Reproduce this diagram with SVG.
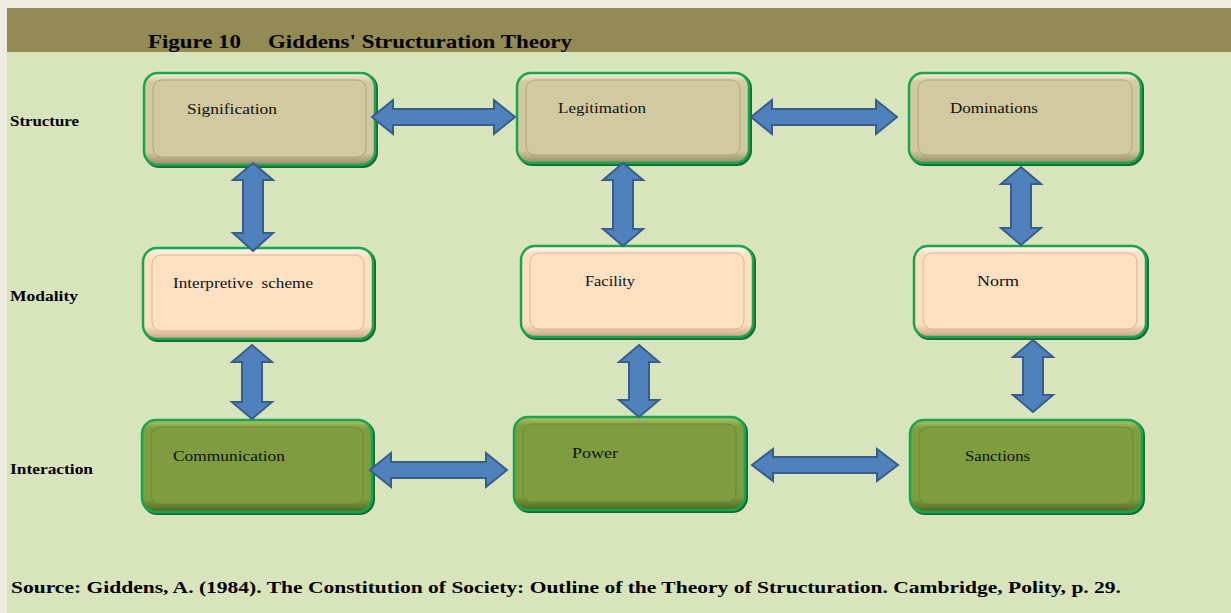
<svg xmlns="http://www.w3.org/2000/svg" width="1231" height="613" viewBox="0 0 1231 613">
  <defs>
    <style>
      .row { font-family: "Liberation Serif", "Times New Roman", serif; font-weight: bold; font-size: 14.5px; fill: #000; }
      .lbl { font-family: "Liberation Serif", "Times New Roman", serif; font-size: 15.5px; fill: #111; }
      .title { font-family: "Liberation Serif", "Times New Roman", serif; font-weight: bold; font-size: 19px; fill: #000; }
      .src { font-family: "Liberation Serif", "Times New Roman", serif; font-weight: bold; font-size: 16px; fill: #000; }
      .frame { stroke: #17a64c; stroke-width: 2.5; }
      .shadow { fill: none; stroke: #166b34; stroke-width: 3; }
      .arrow { fill: #4f81bd; stroke: #385d8a; stroke-width: 2; stroke-linejoin: miter; }
    </style>
    <linearGradient id="bevTan" x1="0" y1="0" x2="0" y2="1">
      <stop offset="0" stop-color="#f4f0dc"/>
      <stop offset="0.1" stop-color="#d1c9a0"/>
      <stop offset="0.86" stop-color="#d1c9a0"/>
      <stop offset="1" stop-color="#948c66"/>
    </linearGradient>
    <linearGradient id="bevPeach" x1="0" y1="0" x2="0" y2="1">
      <stop offset="0" stop-color="#fffaf2"/>
      <stop offset="0.1" stop-color="#fde0c1"/>
      <stop offset="0.86" stop-color="#fde0c1"/>
      <stop offset="1" stop-color="#c6a486"/>
    </linearGradient>
    <linearGradient id="bevOlive" x1="0" y1="0" x2="0" y2="1">
      <stop offset="0" stop-color="#aac46a"/>
      <stop offset="0.1" stop-color="#7f9c40"/>
      <stop offset="0.86" stop-color="#7f9c40"/>
      <stop offset="1" stop-color="#4d6820"/>
    </linearGradient>
  </defs>

  <!-- page and panel -->
  <rect x="0" y="0" width="1231" height="613" fill="#eeece1"/>
  <rect x="7" y="52" width="1224" height="561" fill="#d8e4bc"/>
  <rect x="7" y="8" width="1224" height="44" fill="#948a54"/>
  <text class="title" x="148" y="48" textLength="93" lengthAdjust="spacingAndGlyphs">Figure 10</text>
  <text class="title" x="268" y="48" textLength="304" lengthAdjust="spacingAndGlyphs">Giddens' Structuration Theory</text>

  <!-- row labels -->
  <text class="row" x="10" y="126" textLength="69" lengthAdjust="spacingAndGlyphs">Structure</text>
  <text class="row" x="10" y="301" textLength="68" lengthAdjust="spacingAndGlyphs">Modality</text>
  <text class="row" x="10" y="474" textLength="83" lengthAdjust="spacingAndGlyphs">Interaction</text>

  <!-- structure row -->
  <g id="signification">
    <rect class="shadow" x="145.5" y="74.5" width="231" height="92" rx="14"/>
    <rect class="frame" x="144" y="73" width="231" height="92" rx="14" fill="url(#bevTan)"/>
    <rect x="153" y="80" width="213" height="77" rx="9" fill="#d1c9a0" stroke="#aea67f" stroke-width="1"/>
    <text class="lbl" x="187" y="114" textLength="90" lengthAdjust="spacingAndGlyphs">Signification</text>
  </g>
  <g id="legitimation">
    <rect class="shadow" x="518.5" y="74.5" width="232" height="90" rx="14"/>
    <rect class="frame" x="517" y="73" width="232" height="90" rx="14" fill="url(#bevTan)"/>
    <rect x="526" y="80" width="214" height="75" rx="9" fill="#d1c9a0" stroke="#aea67f" stroke-width="1"/>
    <text class="lbl" x="558" y="113" textLength="88" lengthAdjust="spacingAndGlyphs">Legitimation</text>
  </g>
  <g id="dominations">
    <rect class="shadow" x="910.5" y="74.5" width="232" height="90" rx="14"/>
    <rect class="frame" x="909" y="73" width="232" height="90" rx="14" fill="url(#bevTan)"/>
    <rect x="918" y="80" width="214" height="75" rx="9" fill="#d1c9a0" stroke="#aea67f" stroke-width="1"/>
    <text class="lbl" x="950" y="113" textLength="88" lengthAdjust="spacingAndGlyphs">Dominations</text>
  </g>

  <!-- modality row -->
  <g id="interpretive-scheme">
    <rect class="shadow" x="144.5" y="249.5" width="230" height="91" rx="14"/>
    <rect class="frame" x="143" y="248" width="230" height="91" rx="14" fill="url(#bevPeach)"/>
    <rect x="152" y="255" width="212" height="76" rx="9" fill="#fde0c1" stroke="#d4b598" stroke-width="1"/>
    <text class="lbl" x="173" y="288" textLength="140" lengthAdjust="spacingAndGlyphs" xml:space="preserve">Interpretive  scheme</text>
  </g>
  <g id="facility">
    <rect class="shadow" x="522.5" y="247.5" width="232" height="91" rx="14"/>
    <rect class="frame" x="521" y="246" width="232" height="91" rx="14" fill="url(#bevPeach)"/>
    <rect x="530" y="253" width="214" height="76" rx="9" fill="#fde0c1" stroke="#d4b598" stroke-width="1"/>
    <text class="lbl" x="585" y="286" textLength="50" lengthAdjust="spacingAndGlyphs">Facility</text>
  </g>
  <g id="norm">
    <rect class="shadow" x="915.5" y="247.5" width="232" height="91" rx="14"/>
    <rect class="frame" x="914" y="246" width="232" height="91" rx="14" fill="url(#bevPeach)"/>
    <rect x="923" y="253" width="214" height="76" rx="9" fill="#fde0c1" stroke="#d4b598" stroke-width="1"/>
    <text class="lbl" x="977" y="286" textLength="42" lengthAdjust="spacingAndGlyphs">Norm</text>
  </g>

  <!-- interaction row -->
  <g id="communication">
    <rect class="shadow" x="143.5" y="421.5" width="230" height="92" rx="14"/>
    <rect class="frame" x="142" y="420" width="230" height="92" rx="14" fill="url(#bevOlive)"/>
    <rect x="151" y="427" width="212" height="77" rx="9" fill="#7f9c40" stroke="#6a8632" stroke-width="1"/>
    <text class="lbl" x="173" y="461" textLength="112" lengthAdjust="spacingAndGlyphs">Communication</text>
  </g>
  <g id="power">
    <rect class="shadow" x="515.5" y="418.5" width="231" height="93" rx="14"/>
    <rect class="frame" x="514" y="417" width="231" height="93" rx="14" fill="url(#bevOlive)"/>
    <rect x="523" y="424" width="213" height="78" rx="9" fill="#7f9c40" stroke="#6a8632" stroke-width="1"/>
    <text class="lbl" x="572" y="458" textLength="46" lengthAdjust="spacingAndGlyphs">Power</text>
  </g>
  <g id="sanctions">
    <rect class="shadow" x="911.5" y="421.5" width="232" height="92" rx="14"/>
    <rect class="frame" x="910" y="420" width="232" height="92" rx="14" fill="url(#bevOlive)"/>
    <rect x="919" y="427" width="214" height="77" rx="9" fill="#7f9c40" stroke="#6a8632" stroke-width="1"/>
    <text class="lbl" x="965" y="461" textLength="65" lengthAdjust="spacingAndGlyphs">Sanctions</text>
  </g>

  <!-- double-headed block arrows -->
  <g id="connectors">
    <path class="arrow" d="M372,117 L393,100 L393,109 L494,109 L494,100 L515,117 L494,134 L494,125 L393,125 L393,134 Z"/>
    <path class="arrow" d="M751,117 L772,100 L772,109 L876,109 L876,100 L897,117 L876,134 L876,125 L772,125 L772,134 Z"/>
    <path class="arrow" d="M370,470 L391,453 L391,462 L486,462 L486,453 L507,470 L486,487 L486,478 L391,478 L391,487 Z"/>
    <path class="arrow" d="M752,465 L773,449 L773,457 L877,457 L877,449 L898,465 L877,481 L877,473 L773,473 L773,481 Z"/>

    <path class="arrow" d="M253,163 L273,180 L263,180 L263,233 L273,233 L253,251 L233,233 L243,233 L243,180 L233,180 Z"/>
    <path class="arrow" d="M252,345 L272,362 L262,362 L262,402 L272,402 L252,419 L232,402 L242,402 L242,362 L232,362 Z"/>
    <path class="arrow" d="M623,163 L643,180 L633,180 L633,229 L643,229 L623,246 L603,229 L613,229 L613,180 L603,180 Z"/>
    <path class="arrow" d="M639,345 L659,362 L649,362 L649,400 L659,400 L639,417 L619,400 L629,400 L629,362 L619,362 Z"/>
    <path class="arrow" d="M1021,167 L1041,184 L1031,184 L1031,228 L1041,228 L1021,245 L1001,228 L1011,228 L1011,184 L1001,184 Z"/>
    <path class="arrow" d="M1033,340 L1053,357 L1043,357 L1043,395 L1053,395 L1033,412 L1013,395 L1023,395 L1023,357 L1013,357 Z"/>
  </g>

  <text class="src" x="11" y="593" textLength="1110" lengthAdjust="spacingAndGlyphs">Source: Giddens, A. (1984). The Constitution of Society: Outline of the Theory of Structuration. Cambridge, Polity, p. 29.</text>
</svg>
